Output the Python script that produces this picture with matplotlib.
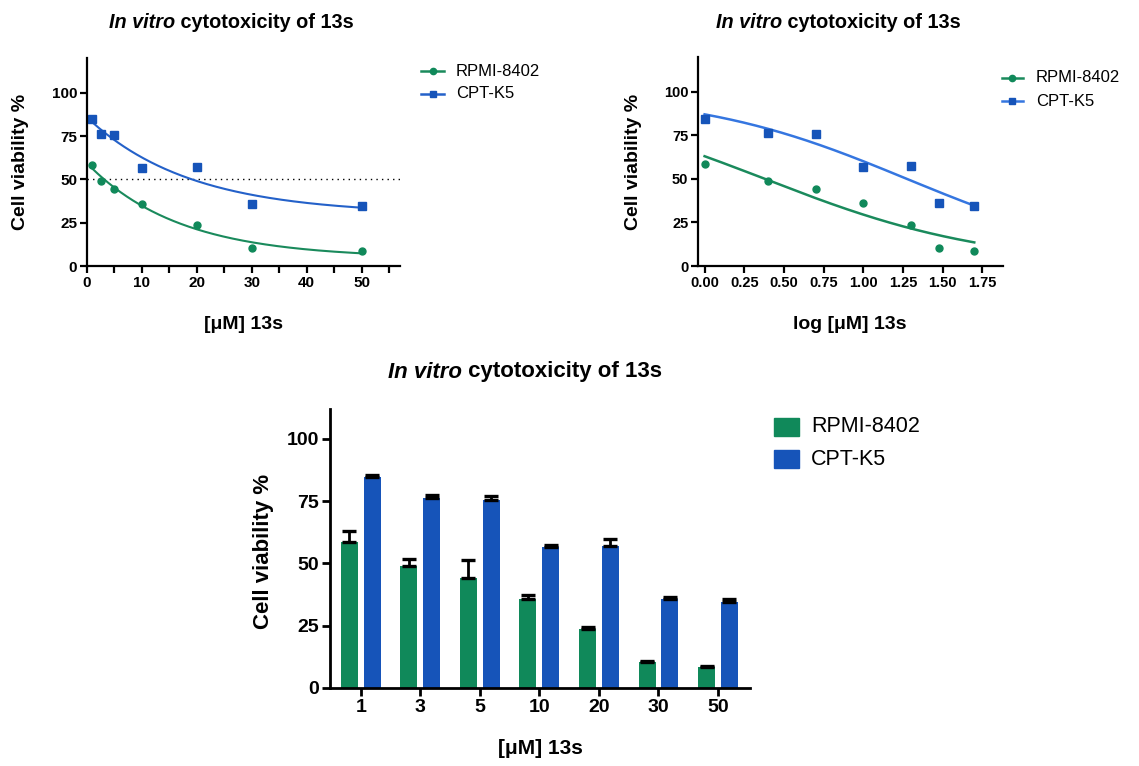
import numpy as np
import matplotlib
matplotlib.use("Agg")
import matplotlib.pyplot as plt
from matplotlib.lines import Line2D
from matplotlib.patches import Rectangle

# ---- data ---------------------------------------------------------------
conc = [1, 2.5, 5, 10, 20, 30, 50]
conc_labels = ["1", "3", "5", "10", "20", "30", "50"]
series_names = ["RPMI-8402", "CPT-K5"]
rpmi_mean = [58.5, 48.9, 44.2, 35.9, 23.6, 10.4, 8.4]
rpmi_sem = [4.7, 3.0, 7.0, 1.6, 1.0, 0.6, 0.3]
cpt_mean = [84.6, 76.2, 75.6, 56.6, 57.2, 35.9, 34.5]
cpt_sem = [1.1, 1.4, 1.6, 0.8, 2.8, 0.6, 1.3]

GREEN = "#10895a"
BLUE = "#1654b9"
GREEN_LINE = "#1a8a5c"
BLUE_LINE = "#2461c9"
BLUE_LINE_LOG = "#3576e0"

W, H = 1139, 766
fig = plt.figure(figsize=(W / 100, H / 100), dpi=100)

BOLD = ["Liberation Sans", "DejaVu Sans"]


def fx(px):
    return px / W


def fy(py):
    return 1 - py / H


def add_axes_px(x0, x1, ytop, ybot):
    return fig.add_axes([fx(x0), fy(ybot), fx(x1 - x0), (ybot - ytop) / H])


def style_axes(ax, tick_size, lw=1.6):
    for s in ("top", "right"):
        ax.spines[s].set_visible(False)
    for s in ("left", "bottom"):
        ax.spines[s].set_linewidth(lw)
    ax.tick_params(axis="both", direction="out", width=lw, length=5,
                   color="black", pad=2)
    for lab in ax.get_xticklabels() + ax.get_yticklabels():
        lab.set_fontfamily(BOLD)
        lab.set_fontweight("bold")
        lab.set_fontsize(tick_size)


def draw_title(xc, yc, size):
    # "In vitro" in bold italic followed by the rest in bold
    r = fig.canvas.get_renderer()
    a = fig.text(0, 0, "In vitro", fontsize=size, fontweight="bold",
                 style="italic", family=BOLD, va="center")
    b = fig.text(0, 0, " cytotoxicity of 13s", fontsize=size,
                 fontweight="bold", family=BOLD, va="center")
    wa = a.get_window_extent(r).width
    wb = b.get_window_extent(r).width
    x0 = xc - (wa + wb) / 2
    a.set_position((fx(x0), fy(yc)))
    b.set_position((fx(x0 + wa), fy(yc)))


# ---- curve fits ----------------------------------------------------------
def fit_decay(x, y):
    """One-phase exponential decay: y = P + S*exp(-k x), least squares."""
    x = np.asarray(x, float)
    y = np.asarray(y, float)
    best = None
    for k in np.linspace(0.005, 1.0, 4000):
        A = np.column_stack([np.ones_like(x), np.exp(-k * x)])
        coef, *_ = np.linalg.lstsq(A, y, rcond=None)
        err = np.sum((A @ coef - y) ** 2)
        if best is None or err < best[0]:
            best = (err, k, coef)
    _, k, (p, s) = best
    return lambda t: p + s * np.exp(-k * t)


def fit_norm_response(lx, y):
    """log(inhibitor) vs normalized response with variable slope."""
    lx = np.asarray(lx, float)
    y = np.asarray(y, float)
    best = None
    for c in np.linspace(-1.0, 3.0, 801):
        for h in np.linspace(0.1, 3.0, 291):
            pred = 100.0 / (1 + 10 ** ((lx - c) * h))
            err = np.sum((pred - y) ** 2)
            if best is None or err < best[0]:
                best = (err, c, h)
    _, c, h = best
    return lambda t: 100.0 / (1 + 10 ** ((t - c) * h))


conc_arr = np.array(conc, float)
log_conc = np.log10(conc_arr)

# ---- top-left: linear concentration ------------------------------------
ax1 = add_axes_px(87, 400, 58, 266)
ax1.set_xlim(0, 57)
ax1.set_ylim(0, 120)
ax1.set_xticks([0, 10, 20, 30, 40, 50])
ax1.set_xticks([5, 15, 25, 35, 45, 55], minor=True)
ax1.set_yticks([0, 25, 50, 75, 100])
ax1.axhline(50, color="black", lw=1.0, ls=(0, (1, 3)))
xs = np.linspace(conc_arr.min(), conc_arr.max(), 300)
for mean, col, lcol, mk, ms in ((rpmi_mean, GREEN, GREEN_LINE, "o", 5),
                               (cpt_mean, BLUE, BLUE_LINE, "s", 6)):
    f = fit_decay(conc_arr, mean)
    ax1.plot(xs, f(xs), color=lcol, lw=1.5)
    ax1.plot(conc_arr, mean, ls="none", marker=mk, ms=ms, color=col, mec=col)
style_axes(ax1, 11)
ax1.tick_params(axis="x", which="minor", direction="out", width=1.6, length=5)

# ---- top-right: log concentration --------------------------------------
ax2 = add_axes_px(698, 1003, 57, 266)
ax2.set_xlim(-0.0415, 1.88)
ax2.set_ylim(0, 120)
log_ticks = np.arange(0, 1.76, 0.25)
ax2.set_xticks(log_ticks)
ax2.set_xticklabels([f"{v:.2f}" for v in log_ticks])
ax2.set_yticks([0, 25, 50, 75, 100])
lxs = np.linspace(log_conc.min(), log_conc.max(), 300)
for mean, col, lcol, mk, ms in ((rpmi_mean, GREEN, GREEN_LINE, "o", 5),
                               (cpt_mean, BLUE, BLUE_LINE_LOG, "s", 6)):
    f = fit_norm_response(log_conc, mean)
    ax2.plot(lxs, f(lxs), color=lcol, lw=1.8)
    ax2.plot(log_conc, mean, ls="none", marker=mk, ms=ms, color=col, mec=col)
style_axes(ax2, 10.5)

# ---- bottom: grouped bars with SEM ---------------------------------------
ax3 = add_axes_px(330, 750, 409, 688)
idx = np.arange(len(conc_labels))
bw = 0.285
off = 0.19
ax3.bar(idx - off, rpmi_mean, width=bw, color=GREEN, zorder=2)
ax3.bar(idx + off, cpt_mean, width=bw, color=BLUE, zorder=2)
for pos, mean, sem in ((idx - off, rpmi_mean, rpmi_sem),
                       (idx + off, cpt_mean, cpt_sem)):
    ax3.errorbar(pos, mean, yerr=[np.zeros(len(sem)), sem], fmt="none",
                 ecolor="black", elinewidth=2, capsize=5, capthick=2.4,
                 zorder=3)
ax3.set_xlim(-0.516, 6.54)
ax3.set_ylim(0, 112)
ax3.set_xticks(idx)
ax3.set_xticklabels(conc_labels)
ax3.set_yticks([0, 25, 50, 75, 100])
style_axes(ax3, 14, lw=2)
ax3.tick_params(axis="both", length=6, width=2)

# ---- titles and axis labels ---------------------------------------------
draw_title(231, 22, 14.3)
draw_title(838, 22, 14.3)
draw_title(525, 372, 16)

fig.text(fx(243), fy(325), "[μM] 13s", ha="center", va="center",
         fontsize=14, fontweight="bold", family=BOLD)
fig.text(fx(850), fy(325), "log [μM] 13s", ha="center", va="center",
         fontsize=14, fontweight="bold", family=BOLD)
fig.text(fx(540), fy(748), "[μM] 13s", ha="center", va="center",
         fontsize=15, fontweight="bold", family=BOLD)
fig.text(fx(21), fy(162), "Cell viability %", ha="center", va="center",
         rotation=90, fontsize=14, fontweight="bold", family=BOLD)
fig.text(fx(634), fy(162), "Cell viability %", ha="center", va="center",
         rotation=90, fontsize=14, fontweight="bold", family=BOLD)
fig.text(fx(264), fy(551), "Cell viability %", ha="center", va="center",
         rotation=90, fontsize=16, fontweight="bold", family=BOLD)


# ---- legends -------------------------------------------------------------
def line_legend(x0, x1, xt, rows, size, blue_line):
    styles = [(GREEN_LINE, GREEN, "o", 4.5), (blue_line, BLUE, "s", 5)]
    for (lc, mc, mk, ms), name, y in zip(styles, series_names, rows):
        fig.add_artist(Line2D([fx(x0), fx(x1)], [fy(y), fy(y)],
                              transform=fig.transFigure, color=lc, lw=1.8))
        fig.add_artist(Line2D([fx((x0 + x1) / 2)], [fy(y)],
                              transform=fig.transFigure, ls="none",
                              marker=mk, ms=ms, color=mc))
        fig.text(fx(xt), fy(y), name, ha="left", va="center", fontsize=size,
                 family=BOLD)


line_legend(421, 444, 456, [71, 94], 12, BLUE_LINE)
line_legend(1002, 1023, 1036, [78, 101], 12, BLUE_LINE_LOG)

for col, name, y in zip([GREEN, BLUE], series_names, [427, 459]):
    fig.add_artist(Rectangle((fx(774), fy(y + 9)), fx(25), 18 / H,
                             transform=fig.transFigure, color=col))
    fig.text(fx(811), fy(y), name, ha="left", va="center", fontsize=15.5,
             family=BOLD)

fig.savefig("out.png", dpi=100)
